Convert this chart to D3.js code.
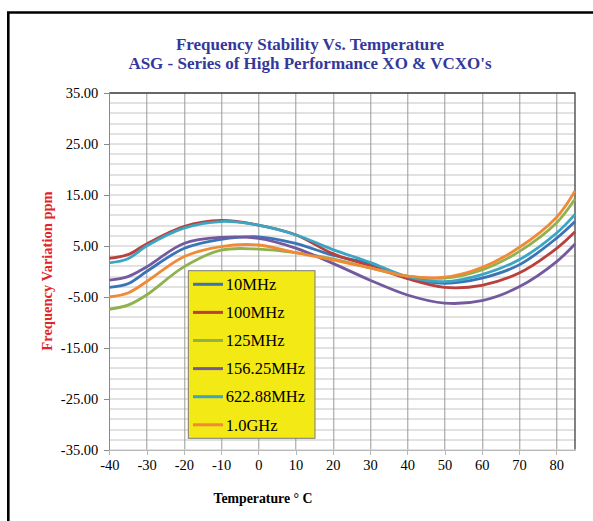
<!DOCTYPE html>
<html>
<head>
<meta charset="utf-8">
<script src="https://cdn.jsdelivr.net/npm/d3@7"></script>
<style>
  body { margin: 0; background: #fff; }
  svg text { font-family: "Liberation Serif", "Times New Roman", serif; }
  .axis path, .axis line { shape-rendering: crispEdges; }
</style>
</head>
<body>
<svg width="593" height="521"></svg>
<script>
// data
var temps = [-40, -35, -30, -20, -10, 0, 10, 20, 30, 40, 50, 60, 70, 80, 85];
var mhz10 = [-3.2, -2.5, -0.1, 4.4, 6.2, 6.7, 5.4, 3.1, 1.4, -1.3, -2.4, -1.4, 1.2, 6.4, 9.7];
var mhz100 = [2.5, 3.2, 5.3, 8.7, 9.9, 9.0, 7.1, 3.4, 1.0, -1.5, -3.2, -2.8, -0.4, 4.4, 7.7];
var mhz125 = [-7.5, -6.7, -4.7, 0.8, 4.1, 4.3, 3.6, 2.4, 0.6, -1.0, -1.4, 0.2, 3.8, 9.4, 14.1];
var mhz156 = [-1.8, -1.1, 0.8, 5.4, 6.6, 6.4, 4.5, 1.5, -1.8, -4.7, -6.3, -5.8, -3.1, 1.8, 5.3];
var mhz622 = [1.6, 2.4, 4.9, 8.4, 9.7, 9.0, 7.1, 4.2, 1.7, -1.1, -2.1, -0.7, 2.2, 7.4, 11.1];
var ghz1 = [-5.1, -4.3, -2.1, 2.8, 4.8, 5.1, 3.6, 2.2, 0.6, -1.0, -1.2, 0.7, 4.6, 10.5, 15.7];

var seriesNames = ["10MHz", "100MHz", "125MHz", "156.25MHz", "622.88MHz", "1.0GHz"];
var seriesValues = [mhz10, mhz100, mhz125, mhz156, mhz622, ghz1];
var seriesColors = ["#3b74b6", "#b9403c", "#8fb24e", "#735a9e", "#3aa6c3", "#f08a36"];

var xTicks = [-40, -30, -20, -10, 0, 10, 20, 30, 40, 50, 60, 70, 80];
var yTicks = [-35, -25, -15, -5, 5, 15, 25, 35];

var svg = d3.select("svg"),
    margin = {top: 92.5, right: 18, bottom: 71.5, left: 109.3},
    width = +svg.attr("width") - margin.left - margin.right,
    height = +svg.attr("height") - margin.top - margin.bottom;

// outer frame (cut off at right and bottom like the picture)
svg.append("path")
    .attr("d", "M8.3,521 L8.3,12.5 L593,12.5")
    .attr("fill", "none")
    .attr("stroke", "#000")
    .attr("stroke-width", 2.6);

// title
var title = svg.append("text")
    .attr("x", 310)
    .attr("text-anchor", "middle")
    .attr("fill", "#34389a")
    .style("font-weight", "bold")
    .style("font-size", "17px");
title.append("tspan").attr("x", 310).attr("y", 49.5).text("Frequency Stability Vs. Temperature");
title.append("tspan").attr("x", 310).attr("y", 69).text("ASG - Series of High Performance XO & VCXO's");

var x = d3.scaleLinear().domain([-40, 85]).range([0, width]),
    y = d3.scaleLinear().domain([-35, 35]).range([height, 0]);

var g = svg.append("g")
    .attr("transform", "translate(" + margin.left + "," + margin.top + ")");

// horizontal minor gridlines every 2
g.append("g")
    .selectAll("line")
    .data(d3.range(-35, 36, 2))
    .enter().append("line")
    .attr("x1", 0)
    .attr("x2", width)
    .attr("y1", function (d) { return Math.round(y(d)) + 0.5; })
    .attr("y2", function (d) { return Math.round(y(d)) + 0.5; })
    .attr("stroke", "#c4c4c4")
    .attr("stroke-width", 1);

// vertical gridlines every 10
g.append("g")
    .selectAll("line")
    .data(xTicks.slice(1))
    .enter().append("line")
    .attr("x1", function (d) { return Math.round(x(d)) + 0.5; })
    .attr("x2", function (d) { return Math.round(x(d)) + 0.5; })
    .attr("y1", 0)
    .attr("y2", height)
    .attr("stroke", "#999")
    .attr("stroke-width", 1);

// top and right border of plot
g.append("path")
    .attr("d", "M0,0.5 L" + width + ",0.5 L" + width + "," + height)
    .attr("fill", "none")
    .attr("stroke", "#404040")
    .attr("stroke-width", 1.3);

// x axis
var xAxis = g.append("g")
    .attr("class", "axis axis--x")
    .attr("transform", "translate(0," + height + ")")
    .call(d3.axisBottom(x).tickValues(xTicks)
        .tickFormat(function (d) { return String(d); })
        .tickSize(5).tickSizeOuter(0).tickPadding(5));
xAxis.select(".domain").attr("stroke", "#b8b8b8");
xAxis.selectAll(".tick line").attr("stroke", "#b8b8b8");
xAxis.selectAll("text")
    .attr("fill", "#000")
    .style("font-family", "Liberation Serif")
    .style("font-size", "14.5px");

// y axis
var yAxis = g.append("g")
    .attr("class", "axis axis--y")
    .call(d3.axisLeft(y).tickValues(yTicks)
        .tickFormat(function (d) { return d.toFixed(2); })
        .tickSize(5).tickSizeOuter(0).tickPadding(6));
yAxis.select(".domain").attr("stroke", "#8a8a8a");
yAxis.selectAll(".tick line").attr("stroke", "#8a8a8a");
yAxis.selectAll("text")
    .attr("fill", "#000")
    .style("font-family", "Liberation Serif")
    .style("font-size", "14.5px");

// axis titles
svg.append("text")
    .attr("transform", "translate(51.5,271) rotate(-90)")
    .attr("text-anchor", "middle")
    .attr("fill", "#e3232a")
    .style("font-weight", "bold")
    .style("font-size", "14.5px")
    .text("Frequency Variation ppm");

svg.append("text")
    .attr("x", 263)
    .attr("y", 503)
    .attr("text-anchor", "middle")
    .attr("fill", "#000")
    .style("font-weight", "bold")
    .style("font-size", "13.8px")
    .text("Temperature \u00b0 C");

// the curves
var line = d3.line()
    .x(function (d) { return x(d.t); })
    .y(function (d) { return y(d.v); })
    .curve(d3.curveCatmullRom.alpha(0.5));

var series = seriesNames.map(function (name, i) {
    return {
        name: name,
        color: seriesColors[i],
        points: temps.map(function (t, j) { return {t: t, v: seriesValues[i][j]}; })
    };
});

g.selectAll(".series")
    .data(series)
    .enter().append("path")
    .attr("class", "series")
    .attr("fill", "none")
    .attr("stroke", function (d) { return d.color; })
    .attr("stroke-width", 2.8)
    .attr("stroke-linejoin", "round")
    .attr("d", function (d) { return line(d.points); });

// legend
var legend = svg.append("g")
    .attr("transform", "translate(188.3,270.7)");

legend.append("rect")
    .attr("width", 126.7)
    .attr("height", 167.6)
    .attr("fill", "#f2e915")
    .attr("stroke", "#7a7a7a")
    .attr("stroke-width", 1);

var item = legend.selectAll(".item")
    .data(series)
    .enter().append("g")
    .attr("class", "item")
    .attr("transform", function (d, i) { return "translate(0," + (13.6 + i * 28.1) + ")"; });

item.append("line")
    .attr("x1", 4.7)
    .attr("x2", 34.7)
    .attr("stroke", function (d) { return d.color; })
    .attr("stroke-width", 3);

item.append("text")
    .attr("x", 37.5)
    .attr("dy", "0.35em")
    .attr("fill", "#000")
    .style("font-size", "16.5px")
    .text(function (d) { return d.name; });
</script>
</body>
</html>
